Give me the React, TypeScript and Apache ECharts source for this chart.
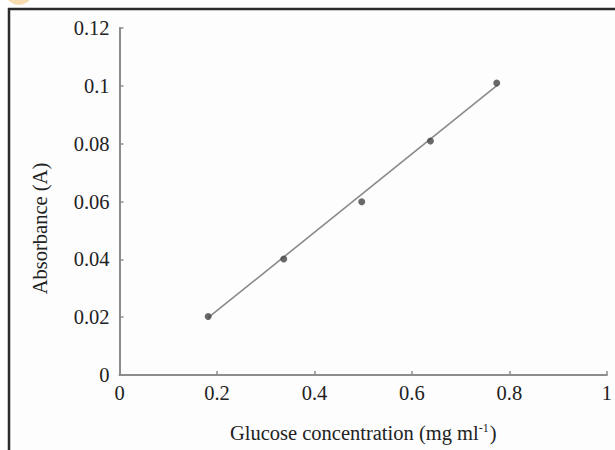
import React, { useEffect, useRef } from "react";
import * as echarts from "echarts";

const concentration = [0.182, 0.337, 0.497, 0.638, 0.774];
const absorbance = [0.0202, 0.0401, 0.0599, 0.0809, 0.101];
const fitX = [0.182, 0.776];
const fitY = [0.0198, 0.1003];
const xTicks = { min: 0, max: 1, interval: 0.2 };
const yTicks = { min: 0, max: 0.12, interval: 0.02 };

export default function App() {
  const ref = useRef<HTMLDivElement>(null);
  useEffect(() => {
    document.body.style.margin = "0";
    const chart = echarts.init(ref.current!, null, { renderer: "svg" });
    const font = "Liberation Serif";
    const axisCommon = {
      axisLine: { show: true, lineStyle: { color: "#8c8c8c", width: 2 } },
      axisTick: { show: true, inside: true, length: 4, lineStyle: { color: "#8c8c8c", width: 1.5 } },
      splitLine: { show: false },
      axisLabel: { color: "#222", fontFamily: font, fontSize: 20.5 },
      nameTextStyle: { color: "#222", fontFamily: font, fontSize: 20.5 },
    };
    chart.setOption({
      animation: false,
      backgroundColor: "#ffffff",
      graphic: [
        { type: "circle", shape: { cx: 19, cy: -9, r: 14 }, style: { fill: "#f6dcae" }, z: -10 },
        { type: "rect", shape: { x: 9, y: 9, width: 640, height: 480 }, style: { fill: "#fdfdfd", stroke: "#2b2b2b", lineWidth: 2.5 }, z: -10 },
      ],
      grid: { left: 119.5, right: 4.3, top: 28, bottom: 75 },
      xAxis: {
        type: "value",
        ...xTicks,
        ...axisCommon,
        axisLabel: { ...axisCommon.axisLabel, margin: 7 },
        name: "Glucose concentration (mg ml{sup|-1})",
        nameLocation: "middle",
        nameGap: 47,
        nameTextStyle: {
          ...axisCommon.nameTextStyle,
          rich: {
            sup: { fontFamily: font, fontSize: 12, color: "#222", verticalAlign: "top", lineHeight: 22, padding: [0, 1, 9, 0] },
          },
        },
      },
      yAxis: {
        type: "value",
        ...yTicks,
        ...axisCommon,
        axisLabel: { ...axisCommon.axisLabel, margin: 10 },
        name: "Absorbance (A)",
        nameLocation: "middle",
        nameGap: 69,
        nameTextStyle: { ...axisCommon.nameTextStyle, padding: [0, 54, 0, 0] },
      },
      series: [
        {
          type: "line",
          data: fitX.map((x, i) => [x, fitY[i]]),
          symbol: "none",
          lineStyle: { color: "#8a8a8a", width: 1.6 },
          z: 1,
        },
        {
          type: "scatter",
          data: concentration.map((x, i) => [x, absorbance[i]]),
          symbol: "circle",
          symbolSize: 7,
          itemStyle: { color: "#444" },
          z: 2,
        },
      ],
    });
    return () => chart.dispose();
  }, []);
  return <div ref={ref} style={{ width: 615, height: 450 }} />;
}
